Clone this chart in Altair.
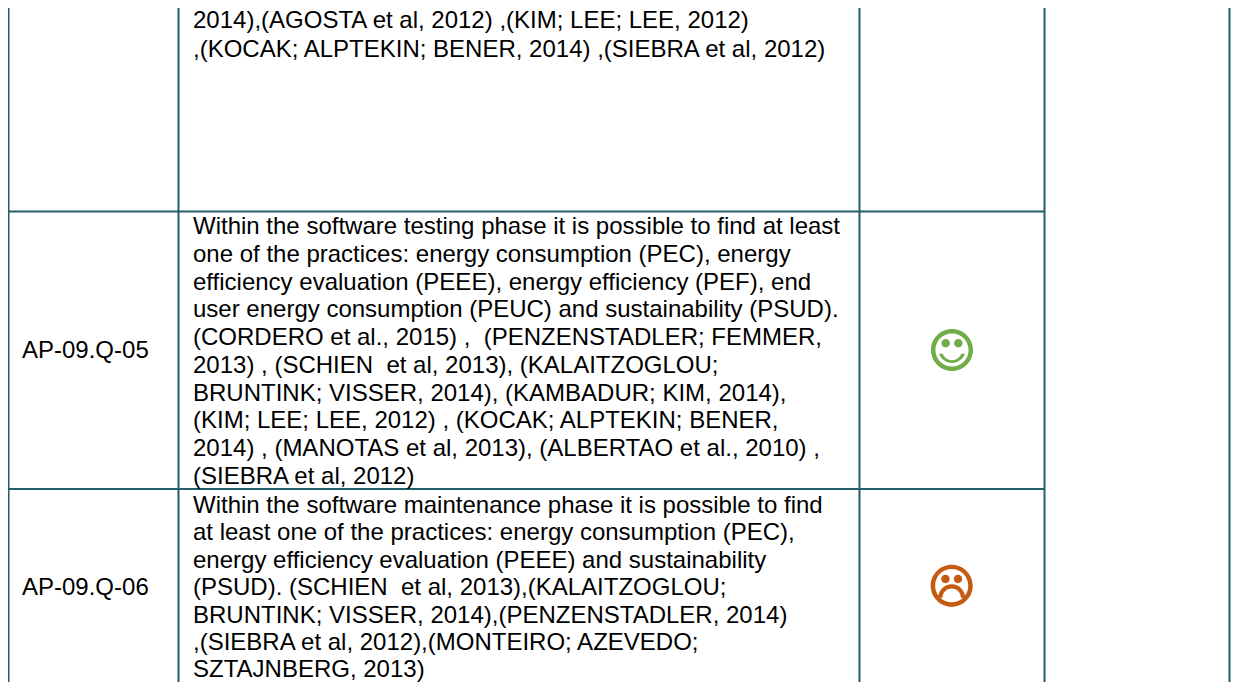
import altair as alt
import pandas as pd

NB = "\u00a0"

# Table content
row_labels = ["AP-09.Q-05", "AP-09.Q-06"]
row1_lines = [
    "2014),(AGOSTA et al, 2012) ,(KIM; LEE; LEE, 2012)",
    ",(KOCAK; ALPTEKIN; BENER, 2014) ,(SIEBRA et al, 2012)",
]
row2_lines = [
    "Within the software testing phase it is possible to find at least",
    "one of the practices: energy consumption (PEC), energy",
    "efficiency evaluation (PEEE), energy efficiency (PEF), end",
    "user energy consumption (PEUC) and sustainability (PSUD).",
    f"(CORDERO et al., 2015) , {NB}(PENZENSTADLER; FEMMER,",
    f"2013) , (SCHIEN {NB}et al, 2013), (KALAITZOGLOU;",
    "BRUNTINK; VISSER, 2014), (KAMBADUR; KIM, 2014),",
    "(KIM; LEE; LEE, 2012) , (KOCAK; ALPTEKIN; BENER,",
    "2014) , (MANOTAS et al, 2013), (ALBERTAO et al., 2010) ,",
    "(SIEBRA et al, 2012)",
]
row3_lines = [
    "Within the software maintenance phase it is possible to find",
    "at least one of the practices: energy consumption (PEC),",
    "energy efficiency evaluation (PEEE) and sustainability",
    f"(PSUD). (SCHIEN {NB}et al, 2013),(KALAITZOGLOU;",
    "BRUNTINK; VISSER, 2014),(PENZENSTADLER, 2014)",
    ",(SIEBRA et al, 2012),(MONTEIRO; AZEVEDO;",
    "SZTAJNBERG, 2013)",
]

# Grid geometry, in page pixels (the drawing area stops at x = 1231)
W, H = 1231, 682
col_edges = [8.5, 178.5, 859.5, 1044.5, 1229.5]
row_edges = [211.5, 489]
grid_top, grid_bottom = 6, 682
TEAL = "#215E69"
FONT = "Liberation Sans"
SIZE = 24

x_scale = alt.Scale(domain=[8, W], range=[0, W - 8], nice=False, zero=False)
y_scale = alt.Scale(domain=[8, H], range=[0, H - 8], nice=False, zero=False)
X = lambda f: alt.X(f, type="quantitative", scale=x_scale, axis=None)
Y = lambda f: alt.Y(f, type="quantitative", scale=y_scale, axis=None)

v_df = pd.DataFrame({"x": col_edges, "y": grid_top, "y2": grid_bottom})
h_df = pd.DataFrame({"y": row_edges, "x": col_edges[0], "x2": col_edges[3]})

verticals = alt.Chart(v_df).mark_rule(color=TEAL, strokeWidth=2).encode(
    x=X("x"), y=Y("y"), y2="y2")
horizontals = alt.Chart(h_df).mark_rule(color=TEAL, strokeWidth=2).encode(
    x=X("x"), x2="x2", y=Y("y"))

# Body text
blocks = [(row1_lines, 28.3, 28.2), (row2_lines, 234.3, 27.7), (row3_lines, 512.7, 27.45)]
recs = []
for lines, first, pitch in blocks:
    for i, t in enumerate(lines):
        recs.append({"x": 193, "y": first + i * pitch, "t": t})
for label, base in zip(row_labels, [358, 595]):
    recs.append({"x": 22, "y": base, "t": label})
text = alt.Chart(pd.DataFrame(recs)).mark_text(
    align="left", baseline="alphabetic", font=FONT, fontSize=SIZE, color="#000000"
).encode(x=X("x"), y=Y("y"), text="t:N")

# Smileys
RING = ("M-1 0A1 1 0 1 1 1 0A1 1 0 1 1 -1 0Z"
        "M-0.79 0A0.79 0.79 0 1 0 0.79 0A0.79 0.79 0 1 0 -0.79 0Z")
EYES = ("M0.10 -0.32A0.2 0.2 0 1 1 0.50 -0.32A0.2 0.2 0 1 1 0.10 -0.32Z"
        "M-0.50 -0.32A0.2 0.2 0 1 1 -0.10 -0.32A0.2 0.2 0 1 1 -0.50 -0.32Z")
SAD = RING + EYES + "M-0.64 0.57A0.64 0.64 0 0 1 0.64 0.57L0.44 0.57A0.44 0.44 0 0 0 -0.44 0.57Z"
HAPPY = RING + EYES + "M-0.62 0.18A0.66 0.66 0 0 0 0.62 0.18L0.44 0.18A0.47 0.47 0 0 1 -0.44 0.18Z"

faces = [("#70AD47", HAPPY, 952, 350), ("#C55A11", SAD, 951.7, 585.7)]
face_layers = [
    alt.Chart(pd.DataFrame({"x": [fx], "y": [fy]})).mark_point(
        shape=shape, filled=True, fill=c, stroke=c, strokeWidth=0, opacity=1, size=42 * 42
    ).encode(x=X("x"), y=Y("y"))
    for c, shape, fx, fy in faces
]

chart = alt.layer(verticals, horizontals, text, *face_layers).properties(
    width=W - 8, height=H - 8, padding=0, autosize=alt.AutoSizeParams(type="none"),
    background="white"
).configure_view(stroke=None)

chart.save("out.html", embed_options={"renderer": "svg", "actions": False})
